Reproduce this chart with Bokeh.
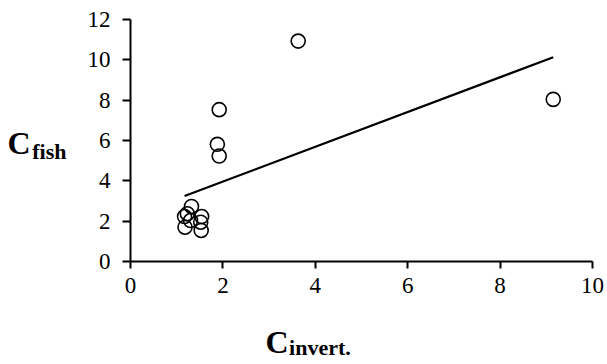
import numpy as np
from bokeh.plotting import figure
from bokeh.models import Range1d, FixedTicker, LinearAxis
from bokeh.embed import file_html
from bokeh.resources import INLINE

# Data
c_invert = [3.63, 9.15, 1.92, 1.88, 1.92, 1.32, 1.17, 1.23, 1.54, 1.52, 1.30, 1.18, 1.53]
c_fish = [10.93, 8.04, 7.53, 5.81, 5.23, 2.73, 2.23, 2.37, 2.23, 1.95, 2.03, 1.70, 1.54]
x_ticks = [0, 2, 4, 6, 8, 10]
y_ticks = [0, 2, 4, 6, 8, 10, 12]

FONT = "Liberation Serif"

p = figure(frame_width=462, frame_height=242,
           min_border_left=130, min_border_top=19, min_border_right=15, min_border_bottom=0,
           x_range=Range1d(0, 10), y_range=Range1d(0, 12),
           output_backend="svg", toolbar_location=None)
p.outline_line_color = None
p.grid.visible = False
p.background_fill_color = "white"
p.border_fill_color = "white"

for ax in (p.xaxis[0], p.yaxis[0]):
    ax.axis_line_width = 2
    ax.axis_line_color = "black"
    ax.major_tick_line_width = 2
    ax.major_tick_line_color = "black"
    ax.major_tick_in = 0
    ax.minor_tick_line_color = None
    ax.major_label_text_font = FONT
    ax.major_label_text_font_size = "23px"
    ax.major_label_text_color = "black"

p.xaxis[0].ticker = FixedTicker(ticks=x_ticks)
p.yaxis[0].ticker = FixedTicker(ticks=y_ticks)
p.xaxis[0].major_tick_out = 7
p.yaxis[0].major_tick_out = 8
p.xaxis[0].major_label_standoff = 9
p.yaxis[0].major_label_standoff = 12

# Trendline (least-squares fit of the data)
slope, intercept = np.polyfit(c_invert, c_fish, 1)
xs = [min(c_invert), max(c_invert)]
ys = [slope * v + intercept for v in xs]
p.line(xs, ys, line_color="black", line_width=2.2)

p.scatter(c_invert, c_fish, marker="circle", size=14, fill_color=None,
          line_color="black", line_width=1.6)


# Axis titles with subscripts, drawn as single tick labels of bare extra axes
def title_axis(side, pos, text, size, standoff):
    ax = LinearAxis(ticker=FixedTicker(ticks=[pos]),
                    major_label_overrides={pos: text},
                    major_label_text_font=FONT, major_label_text_font_style="bold",
                    major_label_text_font_size=size, major_label_text_color="black",
                    major_label_standoff=standoff,
                    axis_line_color=None, major_tick_line_color=None,
                    minor_tick_line_color=None, major_tick_out=0, major_tick_in=0)
    p.add_layout(ax, side)


title_axis("left", 5.47, "fish", "22px", 18)
title_axis("left", 5.875, "C", "32px", -1)
title_axis("below", 3.17, "C", "32px", 28)
title_axis("below", 4.10, "invert.", "22px", -28)

open("out.html", "w").write(file_html(p, INLINE))
